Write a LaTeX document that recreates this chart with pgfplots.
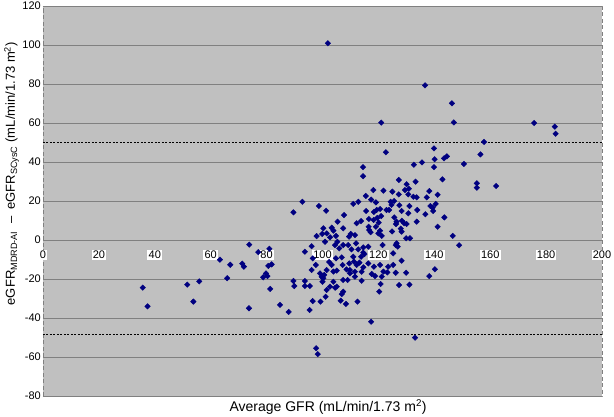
\documentclass[border=0pt]{standalone}
\usepackage{pgfplots}
\pgfplotsset{compat=1.18}
\usepackage{fontspec}
\setmainfont{Liberation Sans}
\definecolor{plotbg}{RGB}{192,192,192}
\definecolor{gridc}{RGB}{128,128,128}
\definecolor{mknavy}{RGB}{0,0,128}
\begin{document}
\begin{tikzpicture}
\begin{axis}[
 name=ax,
 scale only axis, width=559pt, height=390pt,
 xmin=0, xmax=200, ymin=-80, ymax=120,
 axis background/.style={fill=plotbg},
 axis line style={gridc, dash pattern=on 4pt off 2.5pt, line width=0.6pt},
 xtick={0,20,40,60,80,100,120,140,160,180,200},
 xticklabels={0,20,40,60,80,100,120,140,160,180,200},
 ytick={-80,-60,-40,-20,0,20,40,60,80,100,120},
 yticklabels={-80,-60,-40,-20,0,20,40,60,80,100,120},
 tick style={draw=none},
 ymajorgrids, grid style={gridc, line width=0.6pt},
 xticklabel style={anchor=center, yshift=141pt, fill=white, inner sep=1.2pt, font=\fontsize{11}{13}\selectfont},
 yticklabel style={font=\fontsize{11}{13}\selectfont, inner sep=2pt},
 xlabel={Average GFR (mL/min/1.73 m\textsuperscript{2})},
 xlabel style={at={(axis description cs:0.51,0)}, anchor=north, yshift=-3pt, inner sep=0pt, font=\fontsize{14}{16}\selectfont},
 ylabel={eGFR\textsubscript{MDRD-AI} \ -- \ eGFR\textsubscript{SCysC} (mL/min/1.73 m\textsuperscript{2})},
 ylabel style={at={(axis description cs:-0.056,0.57)}, anchor=center, inner sep=0pt, font=\fontsize{13}{15}\selectfont},
]
\addplot[black, line width=0.9pt, dash pattern=on 2pt off 1.5pt] coordinates {(0,49.9) (200,49.9)};
\addplot[black, line width=0.9pt, dash pattern=on 2pt off 1.5pt] coordinates {(0,-48.4) (200,-48.4)};
\addplot[only marks, mark=square*, mark size=1.95pt, mark options={rotate=45}, color=mknavy] table {
x y
35.7 -24.4
37.4 -34.0
51.6 -22.9
53.8 -31.6
55.9 -21.2
63.3 -10.1
65.9 -19.6
67.0 -12.7
71.3 -12.1
71.9 -13.7
73.8 -2.4
73.7 -35.0
77.0 -6.2
81.0 -4.5
80.6 -13.3
81.8 -12.5
78.8 -19.1
79.8 -17.1
80.3 -18.5
81.3 -25.1
84.8 -33.3
87.9 -36.9
89.6 -21.0
89.9 -23.6
93.7 -6.0
93.7 -21.0
93.7 -23.6
95.5 -23.6
95.4 -35.9
96.1 -3.2
96.1 -15.4
96.5 -31.3
97.6 -12.8
97.9 2.0
89.6 14.2
92.8 19.6
101.9 100.9
121.0 60.2
136.7 79.3
146.3 70.1
147.0 60.3
175.7 60.0
183.1 58.1
183.4 54.5
157.8 50.3
156.5 43.9
139.9 47.0
122.7 45.0
140.1 41.4
139.9 37.4
143.5 41.9
144.5 42.9
150.6 39.0
135.6 39.8
132.7 38.6
114.5 37.4
114.5 32.7
142.9 31.1
155.2 29.1
155.2 26.8
162.1 27.7
127.3 30.8
133.3 29.9
130.1 28.6
129.5 25.6
130.9 26.3
121.8 25.3
118.2 25.6
125.0 24.8
127.3 23.4
130.7 23.4
132.5 22.2
133.7 21.9
138.2 25.1
137.3 21.9
141.2 23.2
115.5 22.6
117.4 20.7
119.1 19.3
112.8 19.6
111.0 18.5
124.4 19.6
125.6 20.0
123.8 15.4
127.5 17.8
131.1 17.4
138.6 17.4
139.4 16.6
140.5 18.5
139.6 14.9
133.9 15.4
136.8 13.2
128.3 14.9
122.9 15.4
120.6 15.9
119.4 15.4
121.0 12.3
118.4 14.4
118.3 10.3
119.6 11.3
120.1 8.9
116.6 10.8
116.5 6.8
117.2 4.0
120.6 4.8
121.2 2.1
119.1 6.8
124.9 4.4
126.3 8.2
125.7 11.6
128.4 9.9
129.2 8.6
130.1 8.2
128.0 5.8
129.9 0.9
131.3 0.9
126.5 -1.7
126.9 -3.4
126.2 -2.6
143.6 11.6
141.2 6.8
146.6 2.1
148.9 -2.7
113.8 9.7
115.6 14.9
112.2 8.6
98.7 17.4
101.3 15.0
100.3 6.0
103.3 6.3
103.9 4.8
99.9 3.1
101.5 3.4
102.7 1.4
104.8 2.1
105.3 -0.9
104.5 -2.6
100.9 -0.9
106.0 -4.3
107.4 6.0
105.4 9.4
107.7 12.8
109.5 1.7
110.1 3.1
111.6 2.5
112.0 -1.7
109.2 -2.6
110.4 -4.8
112.8 -4.8
114.6 -3.8
115.0 -7.2
113.8 -8.6
111.0 -8.6
111.3 -11.1
112.2 -12.8
113.2 -11.6
114.6 -14.0
116.4 -12.0
118.4 -13.7
120.6 -12.8
117.6 -17.4
118.8 -18.5
121.8 -16.2
123.2 -16.6
125.3 -12.8
128.3 -10.6
126.2 -16.8
129.9 -16.8
127.4 -23.1
131.1 -22.9
120.8 -22.6
120.3 -26.5
117.4 -41.9
112.5 -31.6
114.0 -20.9
111.6 -18.8
109.8 -15.4
108.6 -15.1
107.2 -12.8
106.9 -8.9
104.8 -9.4
107.4 -20.5
105.1 -23.9
106.9 -27.7
108.4 -32.8
106.5 -31.1
103.9 -21.4
102.7 -23.9
101.5 -25.6
101.1 -29.1
99.3 -31.6
99.1 -17.1
99.7 -18.8
100.3 -19.6
100.6 -17.9
100.0 -21.4
101.5 -15.4
103.9 -16.2
105.1 -15.7
102.4 -11.3
103.3 -12.8
107.4 -2.6
114.6 -6.5
116.4 -3.4
120.0 3.4
121.5 -2.6
96.5 -9.4
104.5 -24.5
107.4 -26.5
109.0 -20.5
109.8 -17.1
111.6 -16.3
114.0 -16.3
109.6 -12.0
121.2 -18.8
123.5 -13.7
116.7 5.1
124.7 18.0
130.7 13.7
126.5 9.4
133.7 9.4
128.3 4.3
133.1 -50.1
140.2 -15.0
138.2 -18.5
125.3 -6.8
97.7 -55.5
98.3 -58.5
};
\end{axis}
\pgfresetboundingbox
\path[use as bounding box] ([xshift=-43pt,yshift=-20pt]ax.south west) rectangle ([xshift=12pt,yshift=6pt]ax.north east);
\end{tikzpicture}
\end{document}
